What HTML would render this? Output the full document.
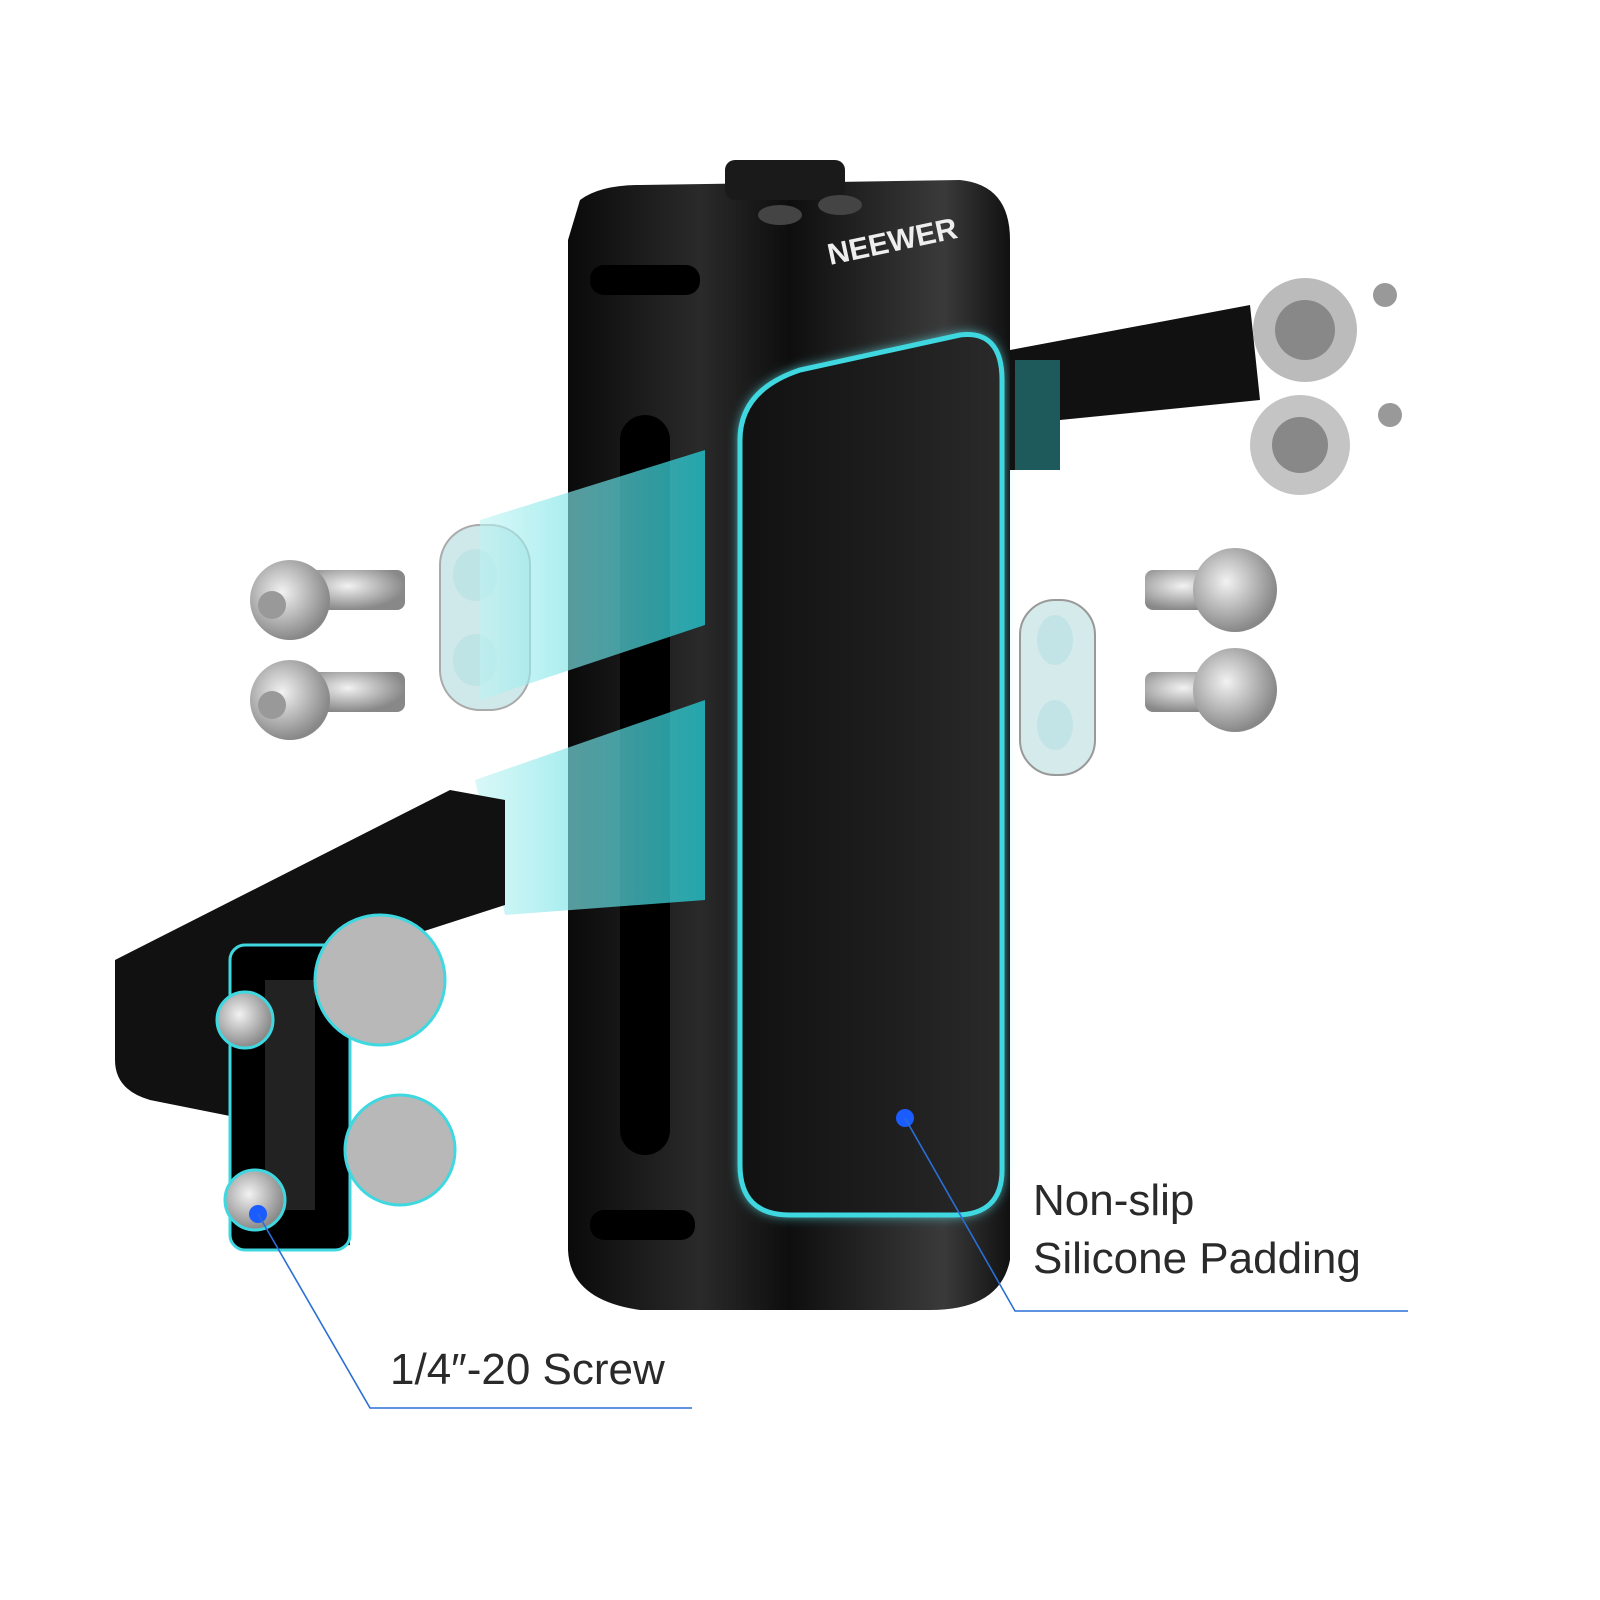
<!DOCTYPE html>
<html><head><meta charset="utf-8"><style>
html,body{margin:0;padding:0;background:#fff;}
svg{display:block}
text{font-family:"Liberation Sans",sans-serif;fill:#2a2a2a;font-weight:300}
</style></head><body>
<svg width="1600" height="1600" viewBox="0 0 1600 1600" xmlns="http://www.w3.org/2000/svg">
<defs>
<linearGradient id="body" x1="0" x2="1" y1="0" y2="0">
<stop offset="0" stop-color="#0a0a0a"/><stop offset="0.3" stop-color="#2a2a2a"/><stop offset="0.5" stop-color="#0e0e0e"/><stop offset="0.85" stop-color="#3a3a3a"/><stop offset="1" stop-color="#111"/>
</linearGradient>
<linearGradient id="pad" x1="0" x2="1"><stop offset="0" stop-color="#111"/><stop offset="0.5" stop-color="#1c1c1c"/><stop offset="1" stop-color="#2a2a2a"/></linearGradient>
<linearGradient id="beam" x1="0" x2="1"><stop offset="0" stop-color="#bff3f3" stop-opacity="0.6"/><stop offset="1" stop-color="#20d0d8" stop-opacity="0.75"/></linearGradient>
<radialGradient id="screw" cx="0.4" cy="0.4" r="0.6"><stop offset="0" stop-color="#f2f2f2"/><stop offset="1" stop-color="#888"/></radialGradient>
<filter id="glow"><feGaussianBlur stdDeviation="6"/></filter>
</defs>
<!-- left plate -->
<rect x="440" y="525" width="90" height="185" rx="40" fill="#cfe9ea" stroke="#aaa" stroke-width="2"/>
<ellipse cx="475" cy="575" rx="22" ry="26" fill="#bfe4e6"/><ellipse cx="475" cy="660" rx="22" ry="26" fill="#bfe4e6"/>
<!-- handle body -->
<path d="M580,200 Q600,185 640,185 L960,180 Q1010,185 1010,240 L1010,1260 Q1000,1310 930,1310 L640,1310 Q570,1300 568,1250 L568,240 Z" fill="url(#body)"/>
<rect x="725" y="160" width="120" height="40" rx="10" fill="#1a1a1a"/>
<ellipse cx="780" cy="215" rx="22" ry="10" fill="#444"/><ellipse cx="840" cy="205" rx="22" ry="10" fill="#444"/>
<text x="830" y="265" font-size="30" style="fill:#eee;font-weight:700" transform="rotate(-12 830 265)">NEEWER</text>
<rect x="590" y="265" width="110" height="30" rx="14" fill="#000"/>
<rect x="620" y="415" width="50" height="740" rx="25" fill="#000"/>
<rect x="590" y="1210" width="105" height="30" rx="14" fill="#000"/>
<!-- beams over body -->
<polygon points="480,520 705,450 705,625 480,700" fill="url(#beam)"/>
<polygon points="475,780 705,700 705,900 505,915" fill="url(#beam)"/>
<!-- pad -->
<path d="M740,440 Q740,390 800,370 L960,335 Q1002,330 1002,380 L1002,1170 Q1002,1215 955,1215 L790,1215 Q740,1215 740,1165 Z" fill="#5fe6ee" filter="url(#glow)"/>
<path d="M740,440 Q740,390 800,370 L960,335 Q1002,330 1002,380 L1002,1170 Q1002,1215 955,1215 L790,1215 Q740,1215 740,1165 Z" fill="url(#pad)" stroke="#3fd8e0" stroke-width="5"/>
<circle cx="905" cy="1118" r="9" fill="#1a5cff"/>
<!-- right bracket -->
<polygon points="1010,350 1250,305 1260,400 1060,420 1060,470 1010,470" fill="#111"/>
<rect x="1015" y="360" width="45" height="110" fill="#1e5a5c"/>
<circle cx="1305" cy="330" r="52" fill="#bbb"/><circle cx="1305" cy="330" r="30" fill="#888"/>
<circle cx="1300" cy="445" r="50" fill="#c4c4c4"/><circle cx="1300" cy="445" r="28" fill="#888"/>
<circle cx="1385" cy="295" r="12" fill="#999"/><circle cx="1390" cy="415" r="12" fill="#999"/>
<!-- right plate -->
<rect x="1020" y="600" width="75" height="175" rx="35" fill="#d5eaea" stroke="#999" stroke-width="2"/>
<ellipse cx="1055" cy="640" rx="18" ry="25" fill="#c2e4e6"/><ellipse cx="1055" cy="725" rx="18" ry="25" fill="#c2e4e6"/>
<!-- screws -->
<g fill="url(#screw)">
<rect x="310" y="570" width="95" height="40" rx="8"/><circle cx="290" cy="600" r="40"/>
<rect x="310" y="672" width="95" height="40" rx="8"/><circle cx="290" cy="700" r="40"/>
<rect x="1145" y="570" width="95" height="40" rx="8"/><circle cx="1235" cy="590" r="42"/>
<rect x="1145" y="672" width="95" height="40" rx="8"/><circle cx="1235" cy="690" r="42"/>
</g>
<circle cx="272" cy="605" r="14" fill="#999"/><circle cx="272" cy="705" r="14" fill="#999"/>
<!-- left bracket -->
<path d="M115,960 L450,790 L505,800 L505,905 L350,955 L350,1245 L300,1250 L250,1120 L150,1100 Q115,1090 115,1060 Z" fill="#111"/>
<rect x="230" y="945" width="120" height="305" rx="15" fill="#000" stroke="#3fd8e0" stroke-width="3"/>
<rect x="265" y="980" width="50" height="230" fill="#222"/>
<circle cx="380" cy="980" r="65" fill="#b8b8b8" stroke="#3fd8e0" stroke-width="3"/>
<circle cx="400" cy="1150" r="55" fill="#b8b8b8" stroke="#3fd8e0" stroke-width="3"/>
<circle cx="245" cy="1020" r="28" fill="url(#screw)" stroke="#3fd8e0" stroke-width="3"/>
<circle cx="255" cy="1200" r="30" fill="url(#screw)" stroke="#3fd8e0" stroke-width="3"/>
<circle cx="258" cy="1214" r="9" fill="#1a5cff"/>
<!-- callouts -->
<polyline points="905,1118 1015,1311 1408,1311" fill="none" stroke="#2a6fd6" stroke-width="1.6"/>
<polyline points="258,1214 370,1408 692,1408" fill="none" stroke="#2a6fd6" stroke-width="1.6"/>
<text x="1033" y="1215" font-size="44">Non-slip</text>
<text x="1033" y="1273" font-size="44">Silicone Padding</text>
<text x="390" y="1384" font-size="44">1/4″-20 Screw</text>
</svg>
</body></html>
